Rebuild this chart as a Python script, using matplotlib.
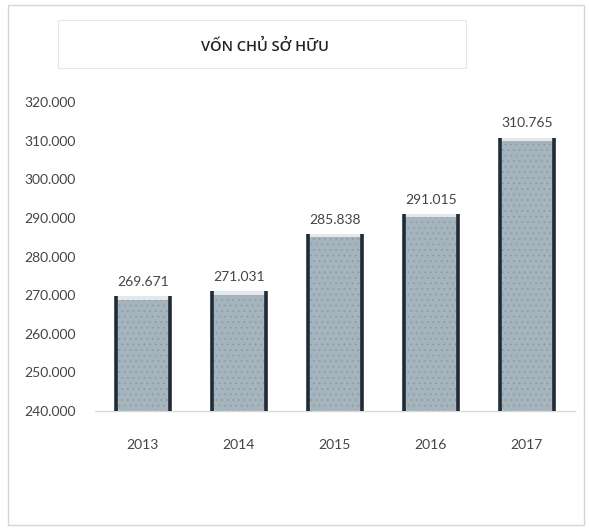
import matplotlib.pyplot as plt
from matplotlib.patches import Rectangle
from matplotlib.ticker import FuncFormatter

plt.rcParams["font.family"] = ["Lato", "DejaVu Sans"]
plt.rcParams["hatch.linewidth"] = 0.6

years = ["2013", "2014", "2015", "2016", "2017"]
equity = [269.671, 271.031, 285.838, 291.015, 310.765]  # billion VND
y_ticks = [240, 250, 260, 270, 280, 290, 300, 310, 320]

TEXT = "#444444"
FILL = "#a6b4be"
EDGE = "#1f2b36"
TOP = "#e3e8ec"

fig = plt.figure(figsize=(5.89, 5.30), dpi=100)

# outer chart frame and title box
fig.patches.append(Rectangle((0.014, 0.01), 0.978, 0.98, transform=fig.transFigure,
                             fill=False, edgecolor="#d6d6d6", linewidth=1.0))
fig.patches.append(Rectangle((0.098, 0.872), 0.694, 0.09, transform=fig.transFigure,
                             fill=False, edgecolor="#e6e6e6", linewidth=0.8))
fig.text(0.45, 0.912, "VỐN CHỦ SỞ HỮU", ha="center", va="center",
         fontsize=10.5, fontweight="semibold", color="#222222",
         family=["Open Sans", "DejaVu Sans"])

ax = fig.add_axes([0.161, 0.2245, 0.815, 0.583])
x = range(len(years))
width = 0.56
bars = ax.bar(x, equity, width=width, bottom=0, color=FILL, edgecolor="none",
              hatch="...", zorder=2)
for b in bars:
    b._hatch_color = (0.55, 0.61, 0.66, 1.0)

# lighter rim at the top and dark sides of each bar
for xi, v in zip(x, equity):
    ax.bar(xi, 0.9, width=width, bottom=v - 0.9, color=TOP, edgecolor="none", zorder=3)
    ax.vlines([xi - width / 2, xi + width / 2], 240, v, color=EDGE, linewidth=2.6, zorder=4)
    ax.annotate(f"{v:.3f}", (xi, v), xytext=(0, 6), textcoords="offset points",
                ha="center", va="bottom", fontsize=10, color=TEXT)

ax.set_ylim(240, 320)
ax.set_xlim(-0.5, 4.5)
ax.set_yticks(y_ticks)
ax.yaxis.set_major_formatter(FuncFormatter(lambda v, _: f"{v:.3f}"))
ax.set_xticks(list(x))
ax.set_xticklabels(years)
ax.tick_params(axis="both", length=0, labelsize=10, colors=TEXT)
ax.tick_params(axis="x", pad=20)
ax.tick_params(axis="y", pad=14)
for side in ["top", "right", "left"]:
    ax.spines[side].set_visible(False)
ax.spines["bottom"].set_color("#d9d9d9")
ax.spines["bottom"].set_linewidth(1.0)

plt.savefig("out.png", dpi=100)
